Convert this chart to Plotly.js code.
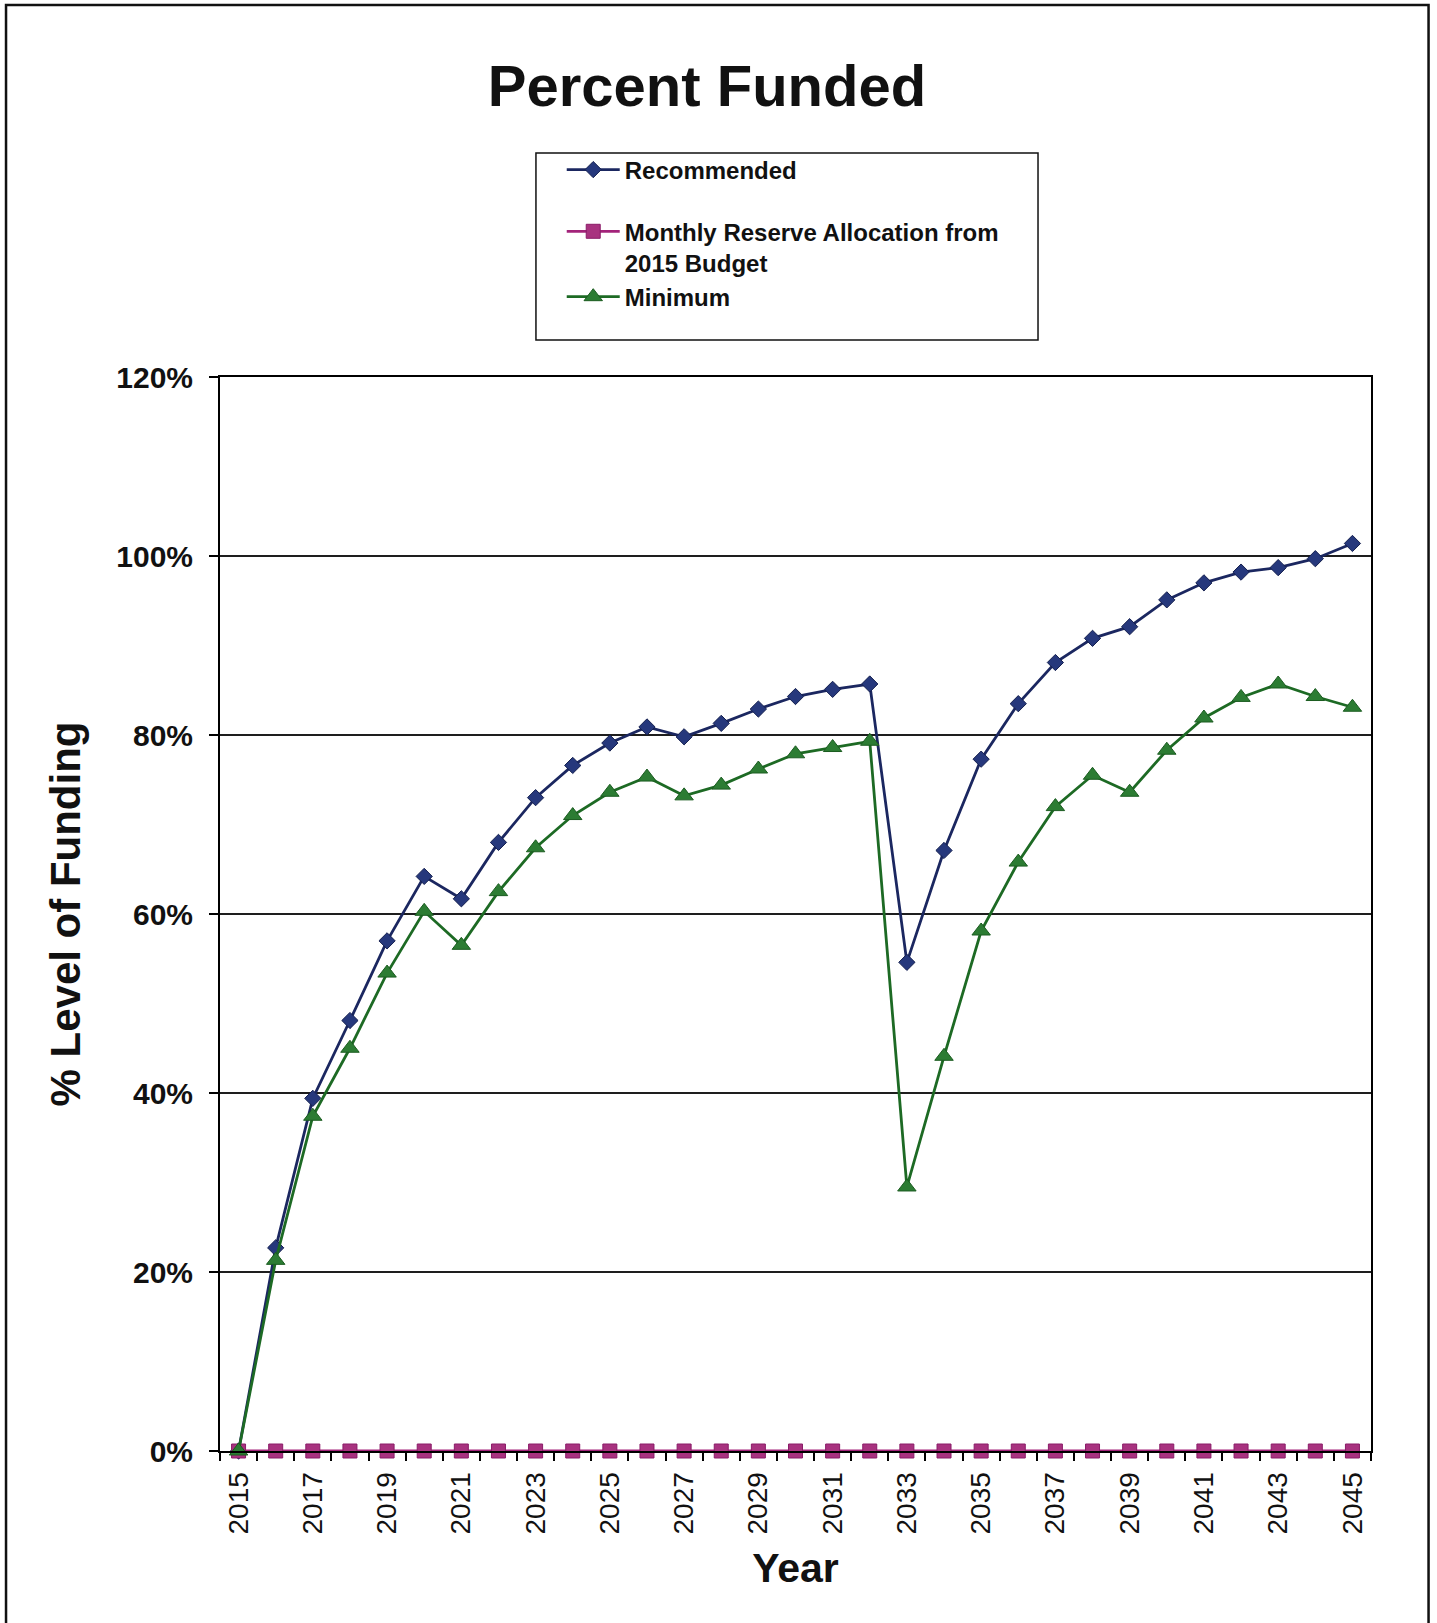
<!DOCTYPE html>
<html>
<head>
<meta charset="utf-8">
<script src="https://cdn.plot.ly/plotly-3.0.1.min.js"></script>
<style>
  html, body { margin: 0; padding: 0; background: #ffffff; }
  #chart { width: 1437px; height: 1623px; }
</style>
</head>
<body>
<div id="chart"></div>
<script>
// Funding level by year for each contribution plan (percent of fully funded)
const years = [2015, 2016, 2017, 2018, 2019, 2020, 2021, 2022, 2023, 2024, 2025,
               2026, 2027, 2028, 2029, 2030, 2031, 2032, 2033, 2034, 2035,
               2036, 2037, 2038, 2039, 2040, 2041, 2042, 2043, 2044, 2045];

const recommended = [0, 22.7, 39.4, 48.1, 57.0, 64.2, 61.7, 68.0, 73.0, 76.6, 79.1,
                     80.9, 79.8, 81.3, 82.9, 84.3, 85.1, 85.7, 54.6, 67.1, 77.3,
                     83.5, 88.1, 90.8, 92.1, 95.1, 97.0, 98.2, 98.7, 99.7, 101.4];

const monthlyBudget = [0, 0, 0, 0, 0, 0, 0, 0, 0, 0, 0,
                       0, 0, 0, 0, 0, 0, 0, 0, 0, 0,
                       0, 0, 0, 0, 0, 0, 0, 0, 0, 0];

const minimum = [0, 21.3, 37.4, 45.0, 53.4, 60.3, 56.5, 62.5, 67.4, 71.0, 73.6,
                 75.3, 73.2, 74.4, 76.2, 77.9, 78.6, 79.3, 29.5, 44.1, 58.1,
                 65.8, 72.0, 75.5, 73.6, 78.3, 81.9, 84.2, 85.7, 84.3, 83.1];

const seriesNames = ['Recommended', 'Monthly Reserve Allocation from<br>2015 Budget', 'Minimum'];
const yTickValues = [0, 20, 40, 60, 80, 100, 120];
const yTickLabels = ['0%', '20%', '40%', '60%', '80%', '100%', '120%'];

const FONT = 'Liberation Sans, Arial, Helvetica, sans-serif';

const traces = [
  {
    x: years, y: recommended, name: seriesNames[0], legendgroup: 'a',
    type: 'scatter', mode: 'lines+markers', cliponaxis: false,
    line: { color: '#1b2760', width: 2.8 },
    marker: { symbol: 'diamond', size: 12.5, color: '#26387c', line: { color: '#15204f', width: 1 } }
  },
  {
    x: years, y: monthlyBudget, name: seriesNames[1], legendgroup: 'b',
    type: 'scatter', mode: 'lines+markers', cliponaxis: false,
    line: { color: '#a3237a', width: 2.8 },
    marker: { symbol: 'square', size: 14, color: '#a8327f', line: { color: '#8a1c68', width: 1 } }
  },
  {
    x: years, y: minimum, name: seriesNames[2], legendgroup: 'b',
    type: 'scatter', mode: 'lines+markers', cliponaxis: false,
    line: { color: '#1d6a24', width: 2.8 },
    marker: { symbol: 'triangle-up', size: 16, color: '#2c7c33', line: { color: '#1b5c20', width: 1 } }
  }
];

const layout = {
  width: 1437,
  height: 1623,
  paper_bgcolor: '#ffffff',
  plot_bgcolor: '#ffffff',
  margin: { l: 220, r: 66, t: 377, b: 172, pad: 0 },
  font: { family: FONT, color: '#000000' },
  showlegend: true,
  title: {
    text: 'Percent Funded',
    font: { family: FONT, size: 58, weight: 'bold', color: '#111111' },
    xref: 'container', yref: 'container',
    x: 0.492, xanchor: 'center',
    y: 0.9472, yanchor: 'middle'
  },
  legend: {
    x: 0.2969, y: 1.2137, xanchor: 'left', yanchor: 'top',
    xref: 'paper', yref: 'paper',
    bgcolor: 'rgba(0,0,0,0)', borderwidth: 0,
    font: { family: FONT, size: 24, weight: 'bold', color: '#111111' },
    itemwidth: 53,
    valign: 'top',
    tracegroupgap: 27.5,
    traceorder: 'grouped'
  },
  xaxis: {
    type: 'linear',
    range: [2014.5, 2045.5],
    tick0: 2015, dtick: 2,
    ticks: 'outside', ticklen: 8, tickcolor: 'rgba(0,0,0,0)',
    tickangle: -90,
    tickfont: { family: FONT, size: 28, color: '#111111' },
    minor: { tick0: 2014.5, dtick: 1, ticks: 'outside', ticklen: 8, tickwidth: 2, tickcolor: '#000000', showgrid: false },
    showgrid: false, zeroline: false,
    showline: true, linecolor: '#000000', linewidth: 2, mirror: true,
    title: { text: 'Year', font: { family: FONT, size: 41, weight: 'bold', color: '#111111' }, standoff: 20 }
  },
  yaxis: {
    range: [0, 120],
    tickmode: 'array',
    tickvals: yTickValues,
    ticktext: yTickLabels,
    ticks: 'outside', ticklen: 9, tickwidth: 2, tickcolor: '#000000',
    ticklabelstandoff: 10,
    tickfont: { family: FONT, size: 30, weight: 'bold', color: '#111111' },
    showgrid: true, gridcolor: '#1e1e1e', gridwidth: 1.8,
    zeroline: false,
    showline: true, linecolor: '#000000', linewidth: 2, mirror: true,
    title: { text: '% Level of Funding', font: { family: FONT, size: 42, weight: 'bold', color: '#111111' }, standoff: 23 }
  },
  shapes: [
    // outer page frame
    { type: 'rect', xref: 'paper', yref: 'paper', x0: -0.1859, x1: 1.0500, y0: -0.176, y1: 1.3464,
      line: { color: '#111111', width: 2.5 }, fillcolor: 'rgba(0,0,0,0)', layer: 'above' },
    // legend box
    { type: 'rect', xref: 'paper', yref: 'paper', x0: 0.2745, x1: 0.7107, y0: 1.0345, y1: 1.2086,
      line: { color: '#111111', width: 1.5 }, fillcolor: 'rgba(0,0,0,0)', layer: 'above' }
  ]
};

Plotly.newPlot('chart', traces, layout, { displayModeBar: false, staticPlot: true });
</script>
</body>
</html>
